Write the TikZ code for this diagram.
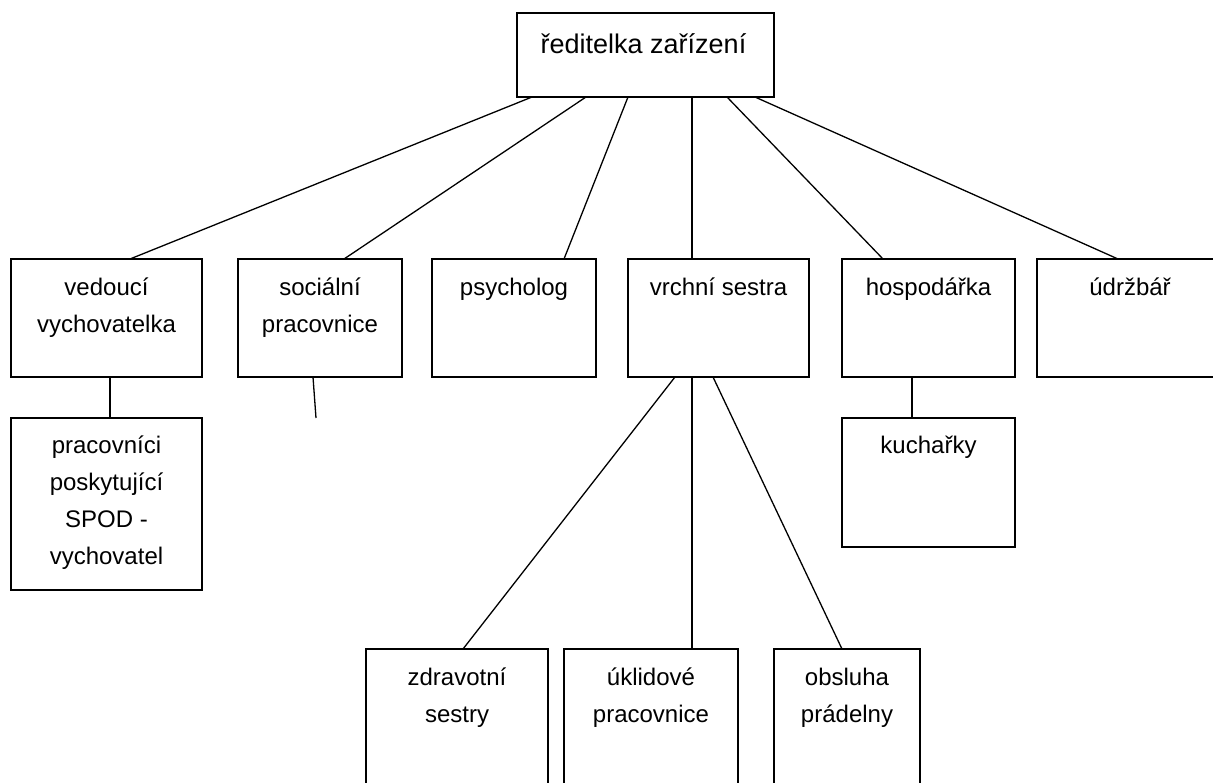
\documentclass[tikz,border=0pt]{standalone}
\usepackage{fontspec}
\setmainfont{Liberation Sans}
\usetikzlibrary{calc}
\tikzset{
  box/.style={draw, line width=1.5pt, anchor=north west, inner sep=0pt, outer sep=0pt},
  lbl/.style={anchor=base, inner sep=0pt, font=\fontsize{24}{37}\selectfont},
  toplbl/.style={anchor=base, inner sep=0pt, font=\fontsize{27}{37}\selectfont},
  conn/.style={line width=1.3pt},
}
\begin{document}
\begin{tikzpicture}[x=1pt,y=-1pt]
\useasboundingbox (0,0) rectangle (1213,782);
% boxes
\node[box, minimum width=257pt, minimum height=84pt] (top) at (517,13) {};
\node[box, minimum width=191pt, minimum height=118pt] (ved) at (11,259) {};
\node[box, minimum width=164pt, minimum height=118pt] (soc) at (238,259) {};
\node[box, minimum width=164pt, minimum height=118pt] (psy) at (432,259) {};
\node[box, minimum width=181pt, minimum height=118pt] (vrc) at (628,259) {};
\node[box, minimum width=173pt, minimum height=118pt] (hos) at (842,259) {};
\node[box, minimum width=186pt, minimum height=118pt] (udr) at (1037,259) {};
\node[box, minimum width=191pt, minimum height=172pt] (pra) at (11,418) {};
\node[box, minimum width=173pt, minimum height=129pt] (kuc) at (842,418) {};
\node[box, minimum width=182pt, minimum height=151pt] (zdr) at (366,649) {};
\node[box, minimum width=174pt, minimum height=151pt] (ukl) at (564,649) {};
\node[box, minimum width=146pt, minimum height=151pt] (obs) at (774,649) {};
% texts
\node[toplbl] (top-t) at ([xshift=-2pt,yshift=-40pt]top.north) {ředitelka zařízení};
\node[lbl] (ved-t) at ([yshift=-36pt]ved.north) {\begin{tabular}[t]{@{}c@{}}vedoucí\\vychovatelka\end{tabular}};
\node[lbl] (soc-t) at ([yshift=-36pt]soc.north) {\begin{tabular}[t]{@{}c@{}}sociální\\pracovnice\end{tabular}};
\node[lbl] (psy-t) at ([yshift=-36pt]psy.north) {psycholog};
\node[lbl] (vrc-t) at ([yshift=-36pt]vrc.north) {vrchní sestra};
\node[lbl] (hos-t) at ([yshift=-36pt]hos.north) {hospodářka};
\node[lbl] (udr-t) at ([yshift=-36pt]udr.north) {údržbář};
\node[lbl] (pra-t) at ([yshift=-35pt]pra.north) {\begin{tabular}[t]{@{}c@{}}pracovníci\\poskytující\\SPOD -\\vychovatel\end{tabular}};
\node[lbl] (kuc-t) at ([yshift=-35pt]kuc.north) {kuchařky};
\node[lbl] (zdr-t) at ([yshift=-36pt]zdr.north) {\begin{tabular}[t]{@{}c@{}}zdravotní\\sestry\end{tabular}};
\node[lbl] (ukl-t) at ([yshift=-36pt]ukl.north) {\begin{tabular}[t]{@{}c@{}}úklidové\\pracovnice\end{tabular}};
\node[lbl] (obs-t) at ([yshift=-36pt]obs.north) {\begin{tabular}[t]{@{}c@{}}obsluha\\prádelny\end{tabular}};
% connectors from top
\draw[conn] ([xshift=15pt]top.south west) -- ([xshift=119pt]ved.north west);
\draw[conn] ([xshift=69pt]top.south west) -- ([xshift=106pt]soc.north west);
\draw[conn] ([xshift=111pt]top.south west) -- ([xshift=132pt]psy.north west);
\draw[conn] ([xshift=175pt]top.south west) -- ([xshift=64pt]vrc.north west);
\draw[conn] ([xshift=210pt]top.south west) -- ([xshift=41pt]hos.north west);
\draw[conn] ([xshift=238pt]top.south west) -- ([xshift=81pt]udr.north west);
% sub connectors
\draw[conn] ([xshift=99pt]ved.south west) -- ([xshift=99pt]pra.north west);
\draw[conn] ([xshift=70pt]hos.south west) -- ([xshift=70pt]kuc.north west);
\coordinate (socend) at (316,418);
\draw[conn] ([xshift=75pt]soc.south west) -- (socend);
\draw[conn] ([xshift=47pt]vrc.south west) -- ([xshift=97pt]zdr.north west);
\draw[conn] ([xshift=64pt]vrc.south west) -- ([xshift=128pt]ukl.north west);
\draw[conn] ([xshift=85pt]vrc.south west) -- ([xshift=68pt]obs.north west);
\end{tikzpicture}
\end{document}
